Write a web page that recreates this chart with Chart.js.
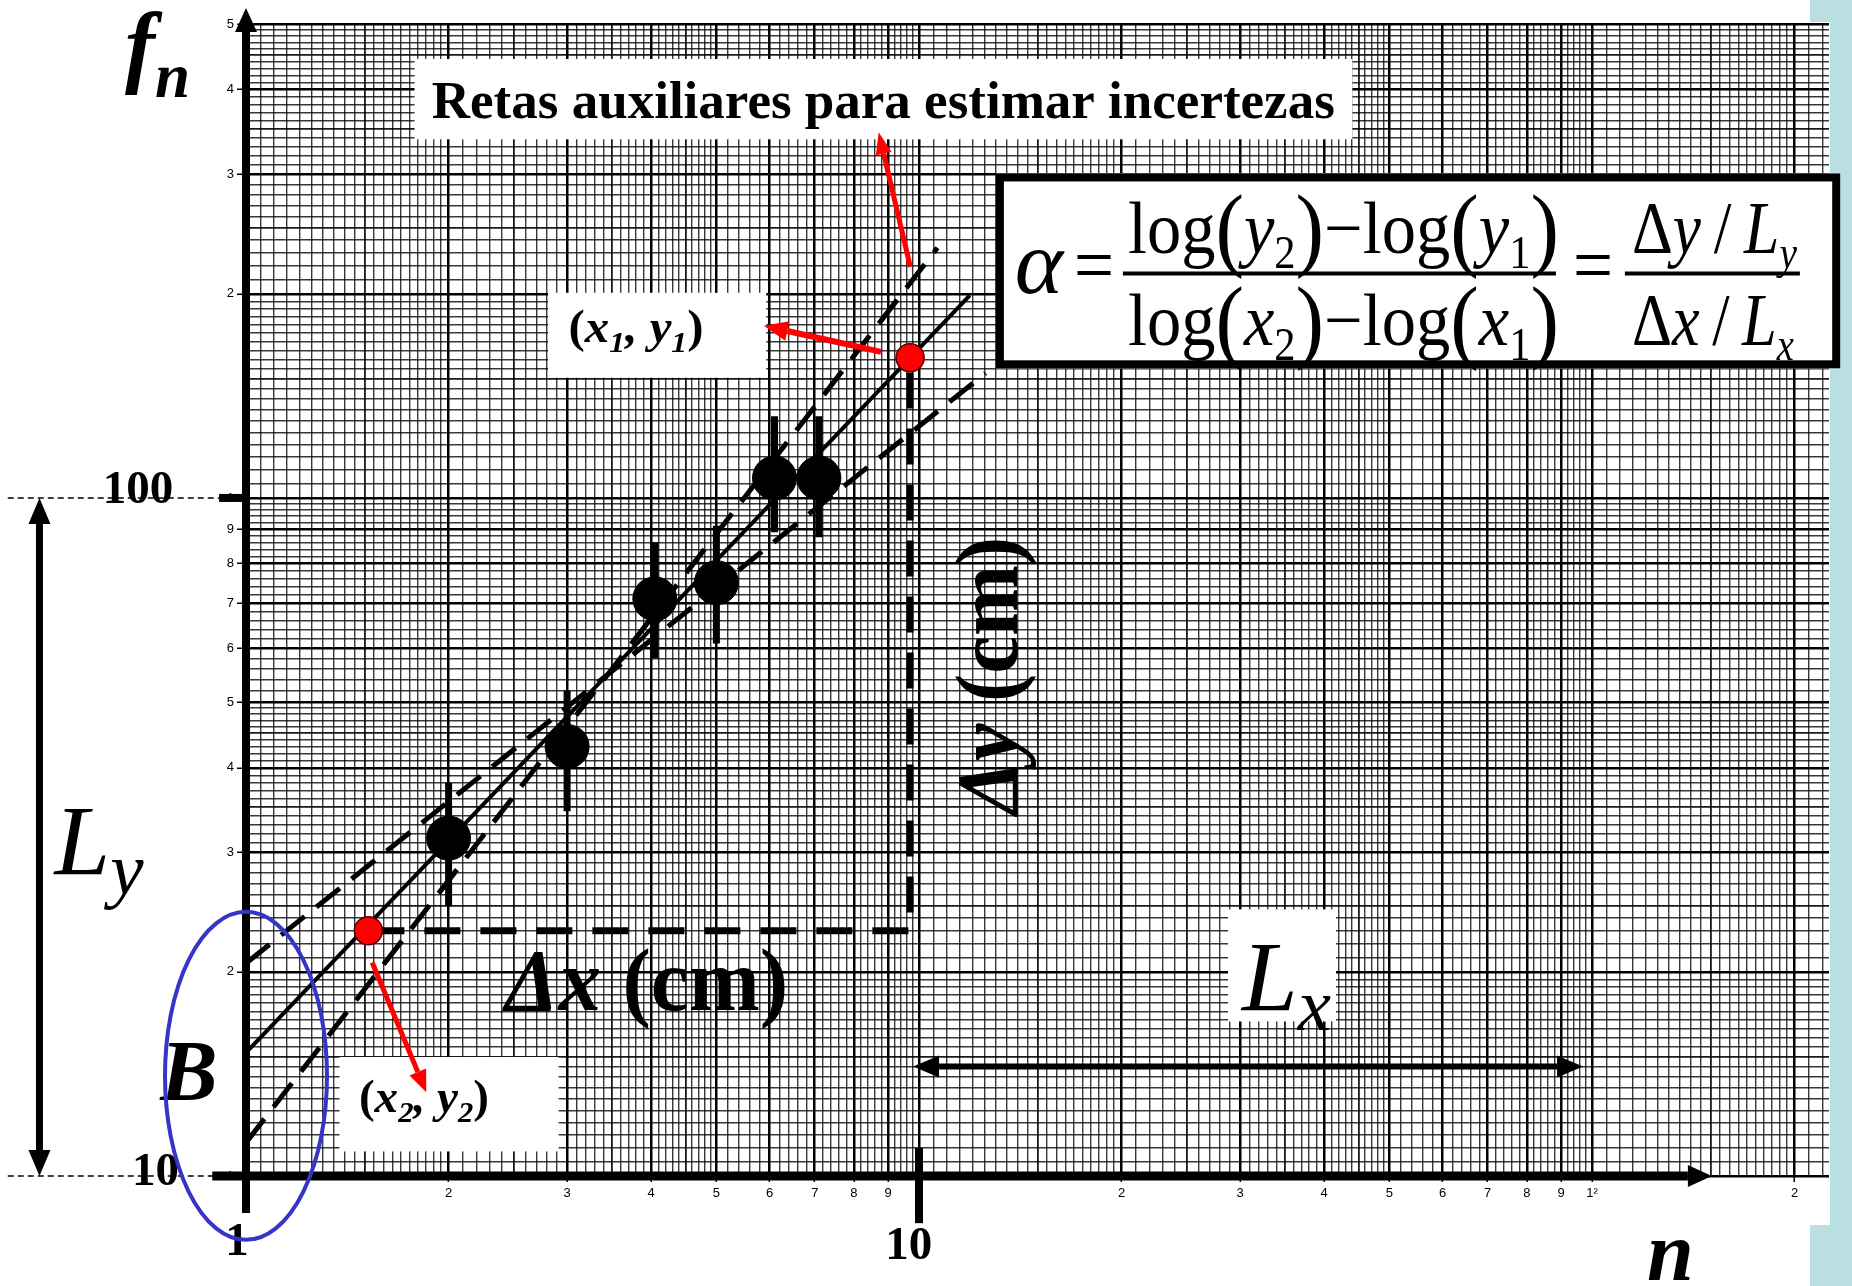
<!DOCTYPE html>
<html>
<head>
<meta charset="utf-8">
<script src="https://cdn.jsdelivr.net/npm/chart.js@4.4.1/dist/chart.umd.min.js"></script>
<style>
  html, body { margin: 0; padding: 0; background: #fff; }
  canvas { display: block; }
</style>
</head>
<body>
<canvas id="grafico" width="1852" height="1286"></canvas>
<script>
// datos (n, f_n)
const armonicos = [2, 3, 4.05, 5, 6.1, 7.1];
const frecuencias = [31.5, 43, 71, 75, 107, 107];
const errorSuperior = [38, 52, 86, 91, 132, 132];
const errorInferior = [25, 34.5, 58, 61, 89, 87.5];

// recta ajustada y retas auxiliares (extremos)
const rectaN = [1, 11.9];
const rectaF = [15.2, 199];
const auxiliar1N = [1, 12.56];
const auxiliar1F = [20.6, 152.8];
const auxiliar2N = [1, 10.65];
const auxiliar2F = [11.2, 233.8];

// puntos (x1, y1) y (x2, y2)
const puntosN = [9.7, 1.52];
const puntosF = [161, 23.0];

const limitesX = [1, 225];
const limitesY = [10, 500];

// papel log-log: tramos de la mantisa en centesimas [desde, hasta, paso]
const tramosPapel = [[100, 200, 5], [200, 500, 10], [500, 1000, 20]];

const SERIF = '"Liberation Serif", "Times New Roman", serif';

function mantisa(v) {
    const d = Math.floor(Math.log10(v) + 1e-9);
    return Math.round(v / Math.pow(10, d) * 100);
}

function lineasPapel(min, max) {
    const valores = [];
    for (let d = Math.floor(Math.log10(min)); d <= Math.ceil(Math.log10(max)); d++) {
        const base = Math.pow(10, d);
        tramosPapel.forEach(([a, b, paso]) => {
            for (let m = a; m < b; m += paso) {
                const v = m / 100 * base;
                if (v >= min - 1e-9 && v <= max + 1e-9) valores.push({ value: v });
            }
        });
    }
    return valores;
}

function anchoLinea(ctx) {
    if (!ctx.tick) return 1;
    const m = mantisa(ctx.tick.value);
    if (m % 100 === 0) return 2.5;
    if (m % 50 === 0) return 1.8;
    return 1.4;
}
function colorLinea(ctx) {
    if (!ctx.tick) return '#000';
    const m = mantisa(ctx.tick.value);
    if (m % 100 === 0) return '#000';
    if (m % 50 === 0) return 'rgba(0,0,0,0.9)';
    return 'rgba(0,0,0,0.78)';
}
function colorMarca(ctx) {
    if (!ctx.tick) return 'rgba(0,0,0,0)';
    return mantisa(ctx.tick.value) % 100 === 0 ? '#000' : 'rgba(0,0,0,0)';
}

function etiquetaX(v) {
    const m = mantisa(v);
    if (m % 100 !== 0) return '';
    const d = m / 100;
    if (d === 1) return Math.abs(v - 100) < 1e-6 ? '1²' : '';
    return String(d);
}
function etiquetaY(v) {
    const m = mantisa(v);
    return m % 100 === 0 ? String(m / 100) : '';
}

function px(chart, n) { return chart.scales.x.getPixelForValue(n); }
function py(chart, f) { return chart.scales.y.getPixelForValue(f); }

// texto con partes: [texto, estilo, escala, desplazamiento en em]
function fuente(p, tam) {
    const est = p[1] || '';
    let f = '';
    if (est.includes('i')) f += 'italic ';
    if (est.includes('b')) f += 'bold ';
    return f + ((p[2] || 1) * tam).toFixed(1) + 'px ' + SERIF;
}
function textoRico(c, partes, x, y, tam, anchoObjetivo, alinear) {
    let total = 0;
    const medidas = partes.map(p => {
        c.font = fuente(p, tam);
        const w = c.measureText(p[0]).width;
        total += w;
        return w;
    });
    const sx = anchoObjetivo ? anchoObjetivo / total : 1;
    c.save();
    c.translate(x, y);
    c.scale(sx, 1);
    let cx = alinear === 'center' ? -total / 2 : 0;
    partes.forEach((p, i) => {
        c.font = fuente(p, tam);
        c.fillText(p[0], cx, (p[3] || 0) * tam);
        cx += medidas[i];
    });
    c.restore();
}

function flecha(c, x1, y1, x2, y2, ancho, largo, abertura, color) {
    const ang = Math.atan2(y2 - y1, x2 - x1);
    const bx = x2 - largo * Math.cos(ang), by = y2 - largo * Math.sin(ang);
    c.strokeStyle = color;
    c.fillStyle = color;
    c.lineWidth = ancho;
    c.lineCap = 'butt';
    c.beginPath(); c.moveTo(x1, y1); c.lineTo(bx, by); c.stroke();
    c.beginPath();
    c.moveTo(x2, y2);
    c.lineTo(bx + abertura / 2 * Math.sin(ang), by - abertura / 2 * Math.cos(ang));
    c.lineTo(bx - abertura / 2 * Math.sin(ang), by + abertura / 2 * Math.cos(ang));
    c.closePath();
    c.fill();
}
function flechaDoble(c, x1, y1, x2, y2, ancho, largo, abertura, color) {
    const mx = (x1 + x2) / 2, my = (y1 + y2) / 2;
    flecha(c, mx, my, x2, y2, ancho, largo, abertura, color);
    flecha(c, mx, my, x1, y1, ancho, largo, abertura, color);
}

// cajas blancas (en coordenadas n, f)
const cajas = [
    [1.78, 444, 44.05, 338],
    [2.811, 200.7, 5.929, 150.4],
    [1.377, 14.98, 2.914, 10.87],
    [28.79, 24.73, 41.65, 16.9]
];
const cajaFormula = [13.01, 301, 233.8, 155.3];

function rectFormula(chart) {
    const x1 = px(chart, cajaFormula[0]), y1 = py(chart, cajaFormula[1]);
    const x2 = px(chart, cajaFormula[2]), y2 = py(chart, cajaFormula[3]);
    return { x: x1, y: y1, w: x2 - x1, h: y2 - y1 };
}

const fondoPlugin = {
    id: 'fondo',
    beforeDraw(chart) {
        const c = chart.ctx, a = chart.chartArea;
        c.save();
        c.fillStyle = '#ffffff';
        c.fillRect(0, 0, chart.width, chart.height);
        c.fillStyle = '#b9dfe2';
        c.fillRect(1810, 0, chart.width - 1810, chart.height);
        c.fillStyle = '#ffffff';
        c.fillRect(0, a.top - 2, a.right + 1, a.bottom + 49 - (a.top - 2));
        c.restore();
    }
};

const cajasPlugin = {
    id: 'cajas',
    beforeDatasetsDraw(chart) {
        const c = chart.ctx;
        c.save();
        c.fillStyle = '#fff';
        cajas.forEach(b => {
            const x1 = px(chart, b[0]), y1 = py(chart, b[1]);
            const x2 = px(chart, b[2]), y2 = py(chart, b[3]);
            c.fillRect(x1, y1, x2 - x1, y2 - y1);
        });
        const r = rectFormula(chart);
        c.fillRect(r.x, r.y, r.w, r.h);
        c.strokeStyle = '#000';
        c.lineWidth = 8;
        c.strokeRect(r.x + 4, r.y + 4, r.w - 8, r.h - 8);
        c.restore();
    }
};

const notasPlugin = {
    id: 'notas',
    afterDraw(chart) {
        const c = chart.ctx;
        const X = n => px(chart, n), Y = f => py(chart, f);
        c.save();
        c.textBaseline = 'alphabetic';

        // lineas finas a la izquierda en 100 y 10
        c.strokeStyle = '#000';
        c.lineWidth = 1.5;
        c.setLineDash([6, 4]);
        [100, 10].forEach(f => {
            c.beginPath(); c.moveTo(X(0.4426), Y(f)); c.lineTo(X(1), Y(f)); c.stroke();
        });
        c.setLineDash([]);

        // ejes gruesos con flecha
        flecha(c, X(1), Y(8.82), X(1), Y(528), 8, 24, 22, '#000');
        flecha(c, X(0.891), Y(10), X(150.7), Y(10), 9, 24, 22, '#000');
        c.lineWidth = 8;
        c.beginPath(); c.moveTo(X(0.912), Y(100)); c.lineTo(X(1), Y(100)); c.stroke();
        c.beginPath(); c.moveTo(X(10), Y(10.996)); c.lineTo(X(10), Y(8.52)); c.stroke();

        // textos
        c.fillStyle = '#000';
        textoRico(c, [['Retas auxiliares para estimar incertezas', 'b']], X(8.85), Y(363.5), 53, 903, 'center');
        textoRico(c, [['(', 'b'], ['x', 'bi'], ['1', 'bi', 0.65, 0.2], [', ', 'bi'], ['y', 'bi'], ['1', 'bi', 0.65, 0.2], [')', 'b']],
            X(3.798), Y(169.6), 46, 135, 'center');
        textoRico(c, [['(', 'b'], ['x', 'bi'], ['2', 'bi', 0.65, 0.2], [', ', 'bi'], ['y', 'bi'], ['2', 'bi', 0.65, 0.2], [')', 'b']],
            X(1.838), Y(12.41), 46, 130, 'center');
        textoRico(c, [['Δ', 'bi'], ['x', 'bi'], [' (cm)', 'b']], X(3.937), Y(17.58), 88, 283, 'center');
        c.save();
        c.translate(X(13.98), Y(54.7));
        c.rotate(-Math.PI / 2);
        textoRico(c, [['Δ', 'bi'], ['y', 'bi'], [' (cm)', 'b']], 0, 0, 88, 278, 'center');
        c.restore();
        textoRico(c, [['L', 'i'], ['x', 'i', 0.75, 0.2]], X(30.2), Y(17.58), 100, null, 'left');
        textoRico(c, [['L', 'i'], ['y', 'i', 0.75, 0.2]], X(0.5195), Y(27.89), 100, null, 'left');
        textoRico(c, [['f', 'bi'], ['n', 'bi', 0.7, 0.23]], X(0.661), Y(419), 90, null, 'left');
        textoRico(c, [['100', 'b']], X(0.691), Y(98.3), 47, null, 'center');
        textoRico(c, [['10', 'b']], X(0.734), Y(9.70), 47, null, 'center');
        textoRico(c, [['1', 'b']], X(0.970), Y(7.65), 47, null, 'center');
        textoRico(c, [['10', 'b']], X(9.654), Y(7.54), 47, null, 'center');
        textoRico(c, [['n', 'bi']], X(130.8), Y(7.025), 84, null, 'center');
        textoRico(c, [['B', 'bi']], X(0.8226), Y(12.94), 86, null, 'center');

        // formula
        const r = rectFormula(chart);
        const bx = r.x, by = r.y;
        textoRico(c, [['α', 'i']], bx + 43, by + 120, 92, null, 'center');
        textoRico(c, [['=', '']], bx + 98, by + 119, 80, 40, 'center');
        textoRico(c, [['=', '']], bx + 597, by + 119, 80, 40, 'center');
        const par1 = ['(', '', 1.25, 0.07], par2 = [')', '', 1.25, 0.07];
        textoRico(c, [['log', ''], par1, ['y', 'i'], ['2', '', 0.62, 0.2], par2, ['−', ''],
            ['log', ''], par1, ['y', 'i'], ['1', '', 0.62, 0.2], par2], bx + 132, by + 80, 74, 431, 'left');
        textoRico(c, [['log', ''], par1, ['x', 'i'], ['2', '', 0.62, 0.2], par2, ['−', ''],
            ['log', ''], par1, ['x', 'i'], ['1', '', 0.62, 0.2], par2], bx + 132, by + 172, 74, 431, 'left');
        textoRico(c, [['Δ', ''], ['y', 'i'], ['\u2009/\u2009', ''], ['L', 'i'], ['y', 'i', 0.62, 0.2]], bx + 636, by + 80, 74, 165, 'left');
        textoRico(c, [['Δ', ''], ['x', 'i'], ['\u2009/\u2009', ''], ['L', 'i'], ['x', 'i', 0.62, 0.2]], bx + 636, by + 172, 74, 162, 'left');
        c.strokeStyle = '#000';
        c.lineWidth = 4;
        c.beginPath(); c.moveTo(bx + 127, by + 100); c.lineTo(bx + 560, by + 100); c.stroke();
        c.beginPath(); c.moveTo(bx + 629, by + 100); c.lineTo(bx + 804, by + 100); c.stroke();

        // flechas rojas
        flecha(c, X(9.708), Y(219.2), X(8.711), Y(346.2), 5, 22, 16, '#ff0000');
        flecha(c, X(8.782), Y(164.2), X(5.882), Y(179.4), 6, 24, 20, '#ff0000');
        flecha(c, X(1.540), Y(20.65), X(1.853), Y(13.29), 5, 22, 18, '#ff0000');

        // flechas dobles Lx y Ly
        flechaDoble(c, X(9.8), Y(14.51), X(97), Y(14.51), 6, 26, 22, '#000');
        flechaDoble(c, X(0.4933), Y(100), X(0.4933), Y(10), 7, 26, 22, '#000');

        // elipse azul
        c.strokeStyle = '#3535c8';
        c.lineWidth = 4;
        c.beginPath();
        c.ellipse(X(1), Y(14.05), 81, 164, 0, 0, Math.PI * 2);
        c.stroke();

        c.restore();
    }
};

const barras = [];
armonicos.forEach((n, i) => {
    barras.push({ x: n, y: errorInferior[i] }, { x: n, y: errorSuperior[i] }, { x: n, y: null });
});

const lienzo = document.getElementById('grafico');
const grafico = new Chart(lienzo, {
    type: 'scatter',
    data: {
        datasets: [
            {
                label: 'puntos',
                data: puntosN.map((n, i) => ({ x: n, y: puntosF[i] })),
                pointRadius: 14,
                pointBackgroundColor: '#ff0000',
                pointBorderColor: '#500',
                pointBorderWidth: 1.5,
                order: 0
            },
            {
                label: 'datos',
                data: armonicos.map((n, i) => ({ x: n, y: frecuencias[i] })),
                pointRadius: 22,
                pointBackgroundColor: '#000',
                pointBorderColor: '#000',
                order: 1
            },
            {
                label: 'incertezas',
                data: barras,
                showLine: true,
                spanGaps: false,
                borderColor: '#000',
                borderWidth: 7,
                pointRadius: 0,
                order: 2
            },
            {
                label: 'guia',
                data: [
                    { x: puntosN[1], y: puntosF[1] },
                    { x: puntosN[0], y: puntosF[1] },
                    { x: puntosN[0], y: puntosF[0] }
                ],
                showLine: true,
                borderColor: '#000',
                borderWidth: 7,
                borderDash: [36, 20],
                pointRadius: 0,
                order: 3
            },
            {
                label: 'recta',
                data: rectaN.map((n, i) => ({ x: n, y: rectaF[i] })),
                showLine: true,
                borderColor: '#000',
                borderWidth: 4,
                pointRadius: 0,
                order: 4
            },
            {
                label: 'auxiliar1',
                data: auxiliar1N.map((n, i) => ({ x: n, y: auxiliar1F[i] })),
                showLine: true,
                borderColor: '#000',
                borderWidth: 5,
                borderDash: [30, 15],
                pointRadius: 0,
                order: 5
            },
            {
                label: 'auxiliar2',
                data: auxiliar2N.map((n, i) => ({ x: n, y: auxiliar2F[i] })),
                showLine: true,
                borderColor: '#000',
                borderWidth: 5,
                borderDash: [30, 15],
                pointRadius: 0,
                order: 6
            }
        ]
    },
    options: {
        responsive: false,
        devicePixelRatio: 1,
        animation: false,
        events: [],
        layout: { padding: { top: 24, right: 12, left: 0, bottom: 0 } },
        plugins: { legend: { display: false }, tooltip: { enabled: false } },
        scales: {
            x: {
                type: 'logarithmic',
                min: limitesX[0],
                max: limitesX[1],
                afterBuildTicks: s => { s.ticks = lineasPapel(s.min, s.max); },
                afterFit: s => { s.height = 110; },
                border: { display: false },
                grid: {
                    color: colorLinea,
                    lineWidth: anchoLinea,
                    drawTicks: true,
                    tickLength: 6,
                    tickColor: colorMarca,
                    tickWidth: 1.5
                },
                ticks: {
                    autoSkip: false,
                    maxRotation: 0,
                    minRotation: 0,
                    padding: 4,
                    color: '#000',
                    font: { family: '"Liberation Sans", Arial, sans-serif', size: 13 },
                    callback: v => etiquetaX(v)
                }
            },
            y: {
                type: 'logarithmic',
                min: limitesY[0],
                max: limitesY[1],
                afterBuildTicks: s => { s.ticks = lineasPapel(s.min, s.max); },
                afterFit: s => { s.width = 246; },
                border: { display: false },
                grid: {
                    color: colorLinea,
                    lineWidth: anchoLinea,
                    drawTicks: true,
                    tickLength: 9,
                    tickColor: colorMarca,
                    tickWidth: 1.5
                },
                ticks: {
                    autoSkip: false,
                    padding: 3,
                    color: '#000',
                    font: { family: '"Liberation Sans", Arial, sans-serif', size: 13 },
                    callback: v => etiquetaY(v)
                }
            }
        }
    },
    plugins: [fondoPlugin, cajasPlugin, notasPlugin]
});
</script>
</body>
</html>
